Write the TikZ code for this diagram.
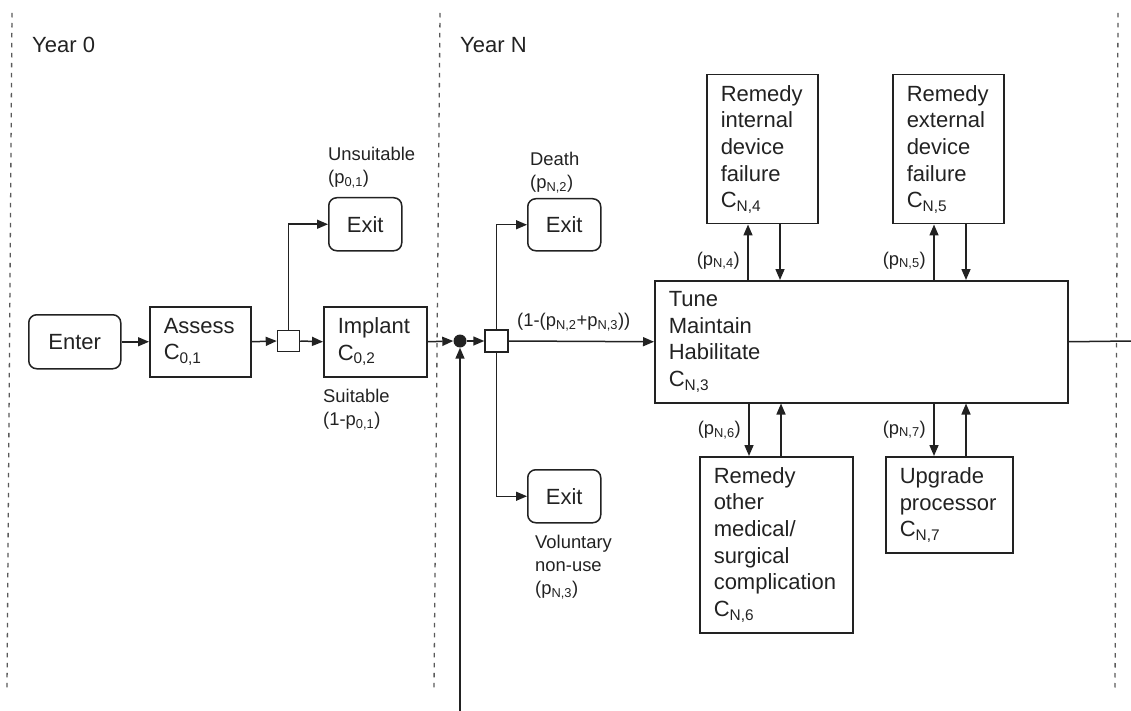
\documentclass[tikz,border=0pt]{standalone}
\usepackage{fontspec}
\setmainfont{Liberation Sans}
\usetikzlibrary{arrows.meta}
\definecolor{ink}{HTML}{222222}
\definecolor{sep}{HTML}{5A5A5A}
\newcommand\boxfont{\fontsize{22}{26.7}\selectfont}
\newcommand\lblfont{\fontsize{18.4}{23}\selectfont}
\begin{document}
\begin{tikzpicture}[x=1pt,y=-1pt,
  ln/.style={line width=1.5pt, draw=ink},
  arr/.style={ln, -{Triangle[length=11pt,width=9pt]}},
  box/.style={draw=ink, line width=1.5pt, anchor=north west, align=left,
              inner xsep=14pt, inner ysep=0pt, font=\boxfont, text=ink},
  rbox/.style={draw=ink, line width=1.5pt, rounded corners=8pt, anchor=north west,
               inner sep=0pt, font=\boxfont, text=ink},
  junction/.style={draw=ink, line width=1.5pt, fill=white, inner sep=0pt,
                   minimum width=22pt, minimum height=21pt},
  lbl/.style={font=\lblfont, align=left, inner sep=0pt, text=ink},
  yearsep/.style={draw=sep, line width=1.3pt, dash pattern=on 4.5pt off 5.5pt}]
\useasboundingbox (0,0) rectangle (1131,711);

% year separators
\draw[yearsep] (12,13) -- (7,688);
\draw[yearsep] (440,13) -- (434,688);
\draw[yearsep] (1118,13) -- (1115,688);

\node[font=\boxfont, anchor=base west, inner sep=0pt, text=ink] (y0) at (32,53) {Year 0};
\node[font=\boxfont, anchor=base west, inner sep=0pt, text=ink] (yn) at (460,53) {Year N};

% year 0
\node[rbox, minimum width=92pt, minimum height=54pt] (enter) at (28,314) {Enter};
\node[box, text width=73pt, minimum height=70pt] (assess) at (149,306) {Assess\\C\textsubscript{0,1}};
\node[junction] (sq1) at (288.5,341) {};
\node[box, text width=75pt, minimum height=70pt] (implant) at (323,306) {Implant\\C\textsubscript{0,2}};
\node[rbox, minimum width=73pt, minimum height=53pt] (exit1) at (328,197) {Exit};
\node[lbl, anchor=north west] (unsuit) at (328,147) {Unsuitable\\(p\textsubscript{0,1})};
\node[lbl, anchor=north west] (suit) at (323,389) {Suitable\\(1-p\textsubscript{0,1})};

% year N
\node[circle, fill=ink, inner sep=0pt, minimum size=13pt] (dot) at (460,341) {};
\node[junction, minimum width=23pt, minimum height=22pt] (sq2) at (496.5,341) {};
\node[rbox, minimum width=73pt, minimum height=52pt] (exitD) at (527,198) {Exit};
\node[rbox, minimum width=73pt, minimum height=53pt] (exitV) at (527,469) {Exit};
\node[lbl, anchor=north west] (death) at (530,152) {Death\\(p\textsubscript{N,2})};
\node[lbl, anchor=north west] (volun) at (535,535) {Voluntary\\non-use\\(p\textsubscript{N,3})};
\node[lbl, anchor=base west] (pstay) at (517,326) {(1-(p\textsubscript{N,2}+p\textsubscript{N,3}))};

\node[box, text width=385pt, minimum height=122pt] (tune) at (654,280)
  {Tune\\Maintain\\Habilitate\\C\textsubscript{N,3}};
\node[box, text width=83pt, minimum height=149pt] (remint) at (706,74)
  {Remedy\\internal\\device\\failure\\C\textsubscript{N,4}};
\node[box, text width=83pt, minimum height=149pt] (remext) at (892,74)
  {Remedy\\external\\device\\failure\\C\textsubscript{N,5}};
\node[box, text width=125pt, minimum height=176pt] (remoth) at (699,456)
  {Remedy\\other\\medical/\\surgical\\complication\\C\textsubscript{N,6}};
\node[box, text width=99pt, minimum height=96pt] (upg) at (885,456)
  {Upgrade\\processor\\C\textsubscript{N,7}};

\node[lbl, anchor=base east] (p4) at (740,265) {(p\textsubscript{N,4})};
\node[lbl, anchor=base east] (p5) at (926,265) {(p\textsubscript{N,5})};
\node[lbl, anchor=base east] (p6) at (741,434) {(p\textsubscript{N,6})};
\node[lbl, anchor=base east] (p7) at (926,434) {(p\textsubscript{N,7})};

% attachment points on the side boxes
\coordinate (i4) at ([xshift=42pt]remint.south west);
\coordinate (o4) at ([xshift=74pt]remint.south west);
\coordinate (i5) at ([xshift=42pt]remext.south west);
\coordinate (o5) at ([xshift=74pt]remext.south west);
\coordinate (i6) at ([xshift=50pt]remoth.north west);
\coordinate (o6) at ([xshift=82pt]remoth.north west);
\coordinate (i7) at ([xshift=49pt]upg.north west);
\coordinate (o7) at ([xshift=81pt]upg.north west);
\coordinate (src) at (460,711);
\coordinate (out) at (1131,341);

% flow
\draw[arr] (enter.east) -- (assess.west);
\draw[arr] (assess.east) -- (sq1.west);
\draw[arr] (sq1.east) -- (implant.west);
\draw[arr] (sq1.north) |- (exit1.west);
\draw[arr] (implant.east) -- (dot.west);
\draw[arr] (src) -- (dot.south);
\draw[arr] (dot.east) -- (sq2.west);
\draw[arr] (sq2.north) |- (exitD.west);
\draw[arr] (sq2.south) |- (exitV.west);
\draw[arr] (sq2.east) -- (tune.west);
\draw[ln] (tune.east) -- (out);

\draw[arr] (i4 |- tune.north) -- (i4);
\draw[arr] (o4) -- (o4 |- tune.north);
\draw[arr] (i5 |- tune.north) -- (i5);
\draw[arr] (o5) -- (o5 |- tune.north);
\draw[arr] (i6 |- tune.south) -- (i6);
\draw[arr] (o6) -- (o6 |- tune.south);
\draw[arr] (i7 |- tune.south) -- (i7);
\draw[arr] (o7) -- (o7 |- tune.south);
\end{tikzpicture}
\end{document}
